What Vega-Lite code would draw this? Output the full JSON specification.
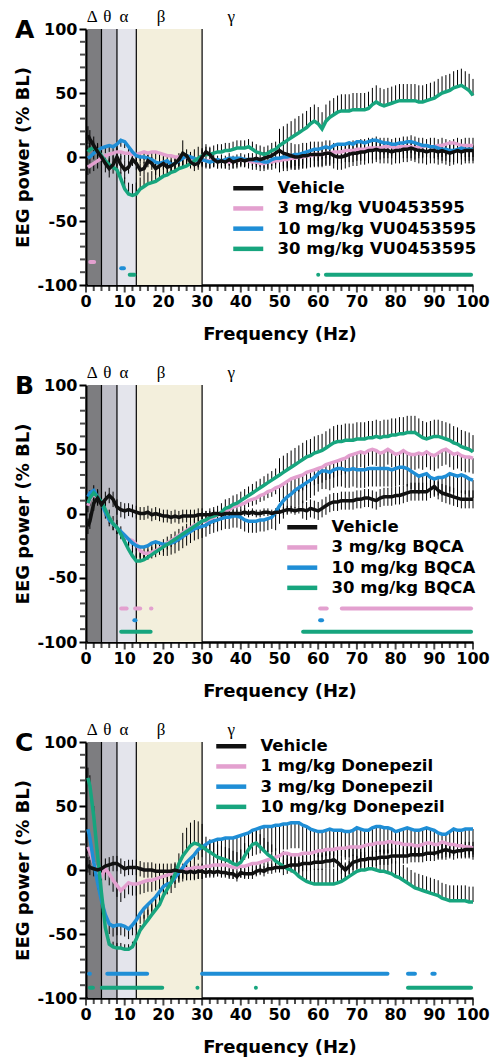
{
"$schema": "https://vega.github.io/schema/vega-lite/v6.json",
"padding": {"left": 14, "top": 8, "right": 0, "bottom": 2},
"spacing": 100,
"bounds": "flush",
"config": {
 "view": {"stroke": null},
 "font": "DejaVu Sans",
 "title": {"anchor": "start", "frame": "bounds", "font": "DejaVu Sans", "fontSize": 25, "fontWeight": "bold", "color": "black", "offset": 0, "dy": 39},
 "axis": {"domainColor": "black", "domainWidth": 2.5, "tickColor": "black", "tickWidth": 2, "tickSize": 7, "labelFont": "DejaVu Sans", "labelFontWeight": "bold", "labelFontSize": 16, "labelColor": "black", "titleFont": "DejaVu Sans", "titleFontWeight": "bold", "titleFontSize": 18, "titleColor": "black", "grid": false, "labelFlush": false, "labelPadding": 2},
 "axisX": {"titlePadding": 40},
 "axisY": {"titlePadding": 4},
 "legend": {"labelFont": "DejaVu Sans", "labelFontWeight": "bold", "labelFontSize": 16.5, "labelColor": "black", "labelLimit": 400, "symbolType": "M-3,0H3", "symbolSize": 100, "symbolStrokeWidth": 4.5, "rowPadding": 1.2, "labelOffset": 21, "padding": 0}
},
"resolve": {"scale": {"color": "independent"}, "legend": {"color": "independent"}},
"datasets": {
 "bands": [
  {"band": "Δ", "lo": 0.5, "hi": 4, "at": 1.6},
  {"band": "θ", "lo": 4, "hi": 8, "at": 5.5},
  {"band": "α", "lo": 8, "hi": 13, "at": 9.8},
  {"band": "β", "lo": 13, "hi": 30, "at": 19.4},
  {"band": "γ", "lo": 30, "hi": 100, "at": 37.5}
 ],
 "majorX": [{"v":0},{"v":10},{"v":20},{"v":30},{"v":40},{"v":50},{"v":60},{"v":70},{"v":80},{"v":90},{"v":100}],
 "minorX": [{"v":2},{"v":4},{"v":6},{"v":8},{"v":12},{"v":14},{"v":16},{"v":18},{"v":22},{"v":24},{"v":26},{"v":28},{"v":32},{"v":34},{"v":36},{"v":38},{"v":42},{"v":44},{"v":46},{"v":48},{"v":52},{"v":54},{"v":56},{"v":58},{"v":62},{"v":64},{"v":66},{"v":68},{"v":72},{"v":74},{"v":76},{"v":78},{"v":82},{"v":84},{"v":86},{"v":88},{"v":92},{"v":94},{"v":96},{"v":98}],
 "minorY": [{"v":-90},{"v":-80},{"v":-70},{"v":-60},{"v":-40},{"v":-30},{"v":-20},{"v":-10},{"v":10},{"v":20},{"v":30},{"v":40},{"v":60},{"v":70},{"v":80},{"v":90}],
 "sig": [
  {"p": "A", "s": "3 mg/kg VU0453595", "x0": 1.1, "x1": 2.1, "y": -82},
  {"p": "A", "s": "10 mg/kg VU0453595", "x0": 9.1, "x1": 9.8, "y": -87},
  {"p": "A", "s": "30 mg/kg VU0453595", "x0": 11.3, "x1": 12.5, "y": -92},
  {"p": "A", "s": "30 mg/kg VU0453595", "x0": 60, "x1": 60, "y": -92},
  {"p": "A", "s": "30 mg/kg VU0453595", "x0": 62, "x1": 99.5, "y": -92},
  {"p": "B", "s": "3 mg/kg BQCA", "x0": 9.1, "x1": 10.5, "y": -74},
  {"p": "B", "s": "3 mg/kg BQCA", "x0": 12.7, "x1": 14, "y": -74},
  {"p": "B", "s": "3 mg/kg BQCA", "x0": 16.8, "x1": 16.9, "y": -74},
  {"p": "B", "s": "3 mg/kg BQCA", "x0": 60.5, "x1": 62.2, "y": -74},
  {"p": "B", "s": "3 mg/kg BQCA", "x0": 66.1, "x1": 99.5, "y": -74},
  {"p": "B", "s": "10 mg/kg BQCA", "x0": 12.5, "x1": 12.8, "y": -83},
  {"p": "B", "s": "10 mg/kg BQCA", "x0": 60.5, "x1": 61, "y": -83},
  {"p": "B", "s": "30 mg/kg BQCA", "x0": 9.1, "x1": 16.7, "y": -92},
  {"p": "B", "s": "30 mg/kg BQCA", "x0": 56.1, "x1": 99.5, "y": -92},
  {"p": "C", "s": "3 mg/kg Donepezil", "x0": 0.8, "x1": 1, "y": -81},
  {"p": "C", "s": "3 mg/kg Donepezil", "x0": 5.5, "x1": 15.8, "y": -81},
  {"p": "C", "s": "3 mg/kg Donepezil", "x0": 30, "x1": 77.9, "y": -81},
  {"p": "C", "s": "3 mg/kg Donepezil", "x0": 83.2, "x1": 85, "y": -81},
  {"p": "C", "s": "3 mg/kg Donepezil", "x0": 89.5, "x1": 90.1, "y": -81},
  {"p": "C", "s": "10 mg/kg Donepezil", "x0": 1, "x1": 1.8, "y": -92},
  {"p": "C", "s": "10 mg/kg Donepezil", "x0": 4.1, "x1": 19.7, "y": -92},
  {"p": "C", "s": "10 mg/kg Donepezil", "x0": 28.8, "x1": 28.8, "y": -92},
  {"p": "C", "s": "10 mg/kg Donepezil", "x0": 43.9, "x1": 43.9, "y": -92},
  {"p": "C", "s": "10 mg/kg Donepezil", "x0": 83.2, "x1": 99.5, "y": -92}
 ],
 "A": [
{"f":0.5,"a":17,"b":-8,"c":-1,"d":4,"ea":7,"tb":-14,"tc":-6,"td":9},
{"f":1,"a":14,"b":-7,"c":0,"d":6,"ea":7,"tb":-13,"tc":-5,"td":11},
{"f":2,"a":9,"b":-5,"c":3,"d":7,"ea":7,"tb":-11,"tc":-2,"td":12},
{"f":3,"a":4,"b":-3,"c":5,"d":5,"ea":7,"tb":-9,"tc":0,"td":10},
{"f":4,"a":0,"b":-1,"c":7,"d":1,"ea":7,"tb":-7,"tc":2,"td":6},
{"f":5,"a":-5,"b":1,"c":8,"d":-3,"ea":7,"tb":-5,"tc":3,"td":2},
{"f":6,"a":-9,"b":2,"c":9,"d":-6,"ea":7,"tb":-4,"tc":4,"td":-1},
{"f":7,"a":-6,"b":3,"c":8,"d":-8,"ea":7,"tb":-3,"tc":3,"td":-3},
{"f":8,"a":0,"b":4,"c":10,"d":-10,"ea":7,"tb":-2,"tc":5,"td":-5},
{"f":9,"a":-6,"b":4,"c":13,"d":-17,"ea":7,"tb":-2,"tc":8,"td":-12},
{"f":10,"a":-10,"b":3,"c":12,"d":-25,"ea":7,"tb":-3,"tc":7,"td":-16},
{"f":11,"a":-8,"b":3,"c":8,"d":-29,"ea":5,"tb":-3,"tc":3,"td":-20},
{"f":12,"a":-2,"b":2,"c":4,"d":-30,"ea":5,"tb":-4,"tc":-1,"td":-21},
{"f":13,"a":-5,"b":2,"c":1,"d":-29,"ea":5,"tb":-4,"tc":-4,"td":-20},
{"f":14,"a":-10,"b":3,"c":0,"d":-25,"ea":5,"tb":-3,"tc":-5,"td":-16},
{"f":15,"a":-9,"b":4,"c":0,"d":-23,"ea":5,"tb":-2,"tc":-5,"td":-14},
{"f":16,"a":-3,"b":3,"c":-1,"d":-21,"ea":5,"tb":-3,"tc":-6,"td":-12},
{"f":17,"a":-5,"b":4,"c":-2,"d":-20,"ea":5,"tb":-2,"tc":-7,"td":-11},
{"f":18,"a":-9,"b":4,"c":-4,"d":-19,"ea":5,"tb":-2,"tc":-9,"td":-10},
{"f":19,"a":-7,"b":3,"c":-5,"d":-17,"ea":5,"tb":-3,"tc":-10,"td":-8},
{"f":20,"a":-5,"b":2,"c":-4,"d":-15,"ea":5,"tb":-4,"tc":-9,"td":-6},
{"f":21,"a":-8,"b":1,"c":-3,"d":-14,"ea":5,"tb":-5,"tc":-8,"td":-5},
{"f":22,"a":-7,"b":1,"c":-6,"d":-12,"ea":5,"tb":-5,"tc":-11,"td":-3},
{"f":23,"a":-5,"b":0,"c":-5,"d":-11,"ea":5,"tb":-6,"tc":-10,"td":-2},
{"f":24,"a":-2,"b":0,"c":-3,"d":-9,"ea":5,"tb":-6,"tc":-8,"td":0},
{"f":25,"a":3,"b":-1,"c":-1,"d":-8,"ea":10,"tb":-7,"tc":-6,"td":1},
{"f":26,"a":1,"b":0,"c":1,"d":-7,"ea":5,"tb":-6,"tc":-4,"td":2},
{"f":27,"a":-4,"b":-1,"c":0,"d":-5,"ea":5,"tb":-7,"tc":-5,"td":4},
{"f":28,"a":-6,"b":-2,"c":-1,"d":-3,"ea":5,"tb":-8,"tc":-6,"td":6},
{"f":29,"a":-5,"b":-2,"c":-3,"d":-1,"ea":5,"tb":-8,"tc":-8,"td":8},
{"f":30,"a":0,"b":-2,"c":-2,"d":1,"ea":6,"tb":-8,"tc":-7,"td":7},
{"f":31,"a":4,"b":-3,"c":-3,"d":2,"ea":6,"tb":-9,"tc":-8,"td":8},
{"f":32,"a":2,"b":-3,"c":-4,"d":2,"ea":5,"tb":-9,"tc":-9,"td":8},
{"f":33,"a":-2,"b":-2,"c":-3,"d":3,"ea":5,"tb":-8,"tc":-8,"td":9},
{"f":34,"a":-4,"b":-3,"c":-2,"d":4,"ea":5,"tb":-9,"tc":-7,"td":10},
{"f":35,"a":-3,"b":-3,"c":-3,"d":4,"ea":5,"tb":-9,"tc":-8,"td":10},
{"f":36,"a":-4,"b":-3,"c":-2,"d":5,"ea":5,"tb":-9,"tc":-7,"td":11},
{"f":37,"a":-2,"b":-4,"c":-1,"d":5,"ea":5,"tb":-10,"tc":-6,"td":11},
{"f":38,"a":-4,"b":-3,"c":-1,"d":6,"ea":5,"tb":-9,"tc":-6,"td":12},
{"f":39,"a":-3,"b":-3,"c":-1,"d":7,"ea":5,"tb":-9,"tc":-6,"td":13},
{"f":40,"a":-2,"b":-2,"c":-1,"d":7,"ea":5,"tb":-8,"tc":-6,"td":13},
{"f":41,"a":-3,"b":-2,"c":-2,"d":7,"ea":5,"tb":-8,"tc":-7,"td":13},
{"f":42,"a":-2,"b":-3,"c":-2,"d":8,"ea":5,"tb":-9,"tc":-7,"td":14},
{"f":43,"a":-2,"b":-4,"c":-2,"d":6,"ea":5,"tb":-10,"tc":-7,"td":12},
{"f":44,"a":-1,"b":-4,"c":-3,"d":4,"ea":5,"tb":-10,"tc":-8,"td":10},
{"f":45,"a":-2,"b":-5,"c":-3,"d":3,"ea":5,"tb":-11,"tc":-8,"td":9},
{"f":46,"a":-1,"b":-5,"c":-4,"d":2,"ea":5,"tb":-11,"tc":-9,"td":8},
{"f":47,"a":0,"b":-4,"c":-4,"d":3,"ea":5,"tb":-10,"tc":-9,"td":9},
{"f":48,"a":1,"b":-4,"c":-2,"d":5,"ea":5,"tb":-10,"tc":-7,"td":11},
{"f":49,"a":3,"b":-3,"c":-1,"d":6,"ea":5,"tb":-9,"tc":-6,"td":12},
{"f":50,"a":5,"b":-3,"c":-1,"d":9,"ea":10,"tb":-12,"tc":-10,"td":22},
{"f":51,"a":3,"b":-2,"c":0,"d":11,"ea":10,"tb":-11,"tc":-9,"td":24},
{"f":52,"a":2,"b":-2,"c":0,"d":13,"ea":10,"tb":-11,"tc":-9,"td":26},
{"f":53,"a":1,"b":-1,"c":1,"d":15,"ea":10,"tb":-10,"tc":-8,"td":28},
{"f":54,"a":0,"b":-1,"c":2,"d":17,"ea":10,"tb":-10,"tc":-7,"td":30},
{"f":55,"a":0,"b":0,"c":2,"d":19,"ea":10,"tb":-9,"tc":-7,"td":32},
{"f":56,"a":1,"b":0,"c":3,"d":21,"ea":10,"tb":-9,"tc":-6,"td":34},
{"f":57,"a":1,"b":1,"c":4,"d":23,"ea":10,"tb":-8,"tc":-5,"td":36},
{"f":58,"a":2,"b":1,"c":5,"d":26,"ea":10,"tb":-8,"tc":-4,"td":39},
{"f":59,"a":2,"b":2,"c":6,"d":28,"ea":10,"tb":-7,"tc":-3,"td":41},
{"f":60,"a":2,"b":2,"c":6,"d":26,"ea":10,"tb":-7,"tc":-3,"td":39},
{"f":61,"a":2,"b":2,"c":7,"d":22,"ea":10,"tb":-7,"tc":-2,"td":35},
{"f":62,"a":3,"b":3,"c":8,"d":28,"ea":10,"tb":-6,"tc":-1,"td":41},
{"f":63,"a":3,"b":3,"c":7,"d":31,"ea":10,"tb":-6,"tc":-2,"td":44},
{"f":64,"a":1,"b":4,"c":9,"d":33,"ea":10,"tb":-5,"tc":0,"td":46},
{"f":65,"a":0,"b":4,"c":10,"d":35,"ea":10,"tb":-5,"tc":1,"td":48},
{"f":66,"a":0,"b":4,"c":10,"d":36,"ea":10,"tb":-5,"tc":1,"td":49},
{"f":67,"a":1,"b":5,"c":10,"d":36,"ea":10,"tb":-4,"tc":1,"td":49},
{"f":68,"a":2,"b":5,"c":11,"d":36,"ea":10,"tb":-4,"tc":2,"td":49},
{"f":69,"a":3,"b":5,"c":10,"d":37,"ea":10,"tb":-4,"tc":1,"td":50},
{"f":70,"a":3,"b":6,"c":12,"d":37,"ea":10,"tb":-3,"tc":3,"td":50},
{"f":71,"a":4,"b":6,"c":12,"d":37,"ea":10,"tb":-3,"tc":3,"td":50},
{"f":72,"a":4,"b":6,"c":11,"d":37,"ea":10,"tb":-3,"tc":2,"td":50},
{"f":73,"a":5,"b":7,"c":12,"d":38,"ea":10,"tb":-2,"tc":3,"td":51},
{"f":74,"a":5,"b":7,"c":13,"d":41,"ea":10,"tb":-2,"tc":4,"td":54},
{"f":75,"a":6,"b":7,"c":13,"d":43,"ea":10,"tb":-2,"tc":4,"td":56},
{"f":76,"a":5,"b":7,"c":12,"d":41,"ea":10,"tb":-2,"tc":3,"td":54},
{"f":77,"a":5,"b":8,"c":11,"d":40,"ea":10,"tb":-1,"tc":2,"td":53},
{"f":78,"a":5,"b":8,"c":11,"d":41,"ea":10,"tb":-1,"tc":2,"td":54},
{"f":79,"a":4,"b":8,"c":10,"d":42,"ea":10,"tb":-1,"tc":1,"td":55},
{"f":80,"a":5,"b":7,"c":10,"d":43,"ea":10,"tb":-2,"tc":1,"td":56},
{"f":81,"a":5,"b":8,"c":11,"d":44,"ea":10,"tb":-1,"tc":2,"td":57},
{"f":82,"a":6,"b":8,"c":11,"d":44,"ea":10,"tb":-1,"tc":2,"td":57},
{"f":83,"a":6,"b":8,"c":12,"d":44,"ea":10,"tb":-1,"tc":3,"td":57},
{"f":84,"a":7,"b":8,"c":12,"d":44,"ea":10,"tb":-1,"tc":3,"td":57},
{"f":85,"a":6,"b":7,"c":11,"d":44,"ea":10,"tb":-2,"tc":2,"td":57},
{"f":86,"a":5,"b":8,"c":10,"d":43,"ea":10,"tb":-1,"tc":1,"td":56},
{"f":87,"a":5,"b":8,"c":9,"d":43,"ea":10,"tb":-1,"tc":0,"td":56},
{"f":88,"a":4,"b":9,"c":9,"d":44,"ea":10,"tb":0,"tc":0,"td":57},
{"f":89,"a":5,"b":8,"c":8,"d":45,"ea":10,"tb":-1,"tc":-1,"td":58},
{"f":90,"a":5,"b":8,"c":8,"d":46,"ea":10,"tb":-1,"tc":-1,"td":59},
{"f":91,"a":4,"b":9,"c":7,"d":48,"ea":10,"tb":0,"tc":-2,"td":61},
{"f":92,"a":5,"b":9,"c":6,"d":50,"ea":10,"tb":0,"tc":-3,"td":63},
{"f":93,"a":4,"b":10,"c":6,"d":51,"ea":10,"tb":1,"tc":-3,"td":64},
{"f":94,"a":3,"b":11,"c":5,"d":52,"ea":10,"tb":2,"tc":-4,"td":65},
{"f":95,"a":4,"b":11,"c":5,"d":54,"ea":10,"tb":2,"tc":-4,"td":67},
{"f":96,"a":5,"b":10,"c":6,"d":55,"ea":10,"tb":1,"tc":-3,"td":68},
{"f":97,"a":4,"b":9,"c":7,"d":56,"ea":10,"tb":0,"tc":-2,"td":69},
{"f":98,"a":5,"b":9,"c":6,"d":54,"ea":10,"tb":0,"tc":-3,"td":67},
{"f":99,"a":5,"b":9,"c":6,"d":52,"ea":10,"tb":0,"tc":-3,"td":65},
{"f":100,"a":5,"b":9,"c":6,"d":48,"ea":10,"tb":0,"tc":-3,"td":61}
 ],
 "B": [
{"f":0.5,"a":-10,"b":6,"c":13,"d":8,"ea":6,"tb":1,"tc":8,"td":14},
{"f":1,"a":-6,"b":11,"c":16,"d":12,"ea":6,"tb":6,"tc":11,"td":18},
{"f":2,"a":8,"b":15,"c":18,"d":16,"ea":6,"tb":10,"tc":13,"td":22},
{"f":3,"a":12,"b":12,"c":13,"d":13,"ea":6,"tb":7,"tc":8,"td":19},
{"f":4,"a":7,"b":8,"c":8,"d":9,"ea":6,"tb":3,"tc":3,"td":15},
{"f":5,"a":11,"b":3,"c":1,"d":3,"ea":6,"tb":-2,"tc":-4,"td":9},
{"f":6,"a":14,"b":-3,"c":-5,"d":-3,"ea":6,"tb":-8,"tc":-10,"td":3},
{"f":7,"a":11,"b":-8,"c":-8,"d":-8,"ea":6,"tb":-13,"tc":-13,"td":-2},
{"f":8,"a":5,"b":-11,"c":-11,"d":-11,"ea":6,"tb":-16,"tc":-16,"td":-5},
{"f":9,"a":3,"b":-15,"c":-14,"d":-16,"ea":6,"tb":-20,"tc":-19,"td":-10},
{"f":10,"a":2,"b":-18,"c":-17,"d":-22,"ea":6,"tb":-23,"tc":-22,"td":-16},
{"f":11,"a":3,"b":-20,"c":-20,"d":-28,"ea":5,"tb":-25,"tc":-25,"td":-22},
{"f":12,"a":2,"b":-21,"c":-23,"d":-33,"ea":5,"tb":-26,"tc":-28,"td":-27},
{"f":13,"a":1,"b":-24,"c":-25,"d":-37,"ea":5,"tb":-29,"tc":-34,"td":-31},
{"f":14,"a":0,"b":-29,"c":-26,"d":-37,"ea":5,"tb":-34,"tc":-35,"td":-31},
{"f":15,"a":0,"b":-31,"c":-26,"d":-36,"ea":5,"tb":-36,"tc":-35,"td":-30},
{"f":16,"a":1,"b":-31,"c":-25,"d":-34,"ea":5,"tb":-36,"tc":-34,"td":-28},
{"f":17,"a":-1,"b":-30,"c":-23,"d":-32,"ea":5,"tb":-35,"tc":-32,"td":-26},
{"f":18,"a":0,"b":-29,"c":-22,"d":-30,"ea":5,"tb":-34,"tc":-31,"td":-24},
{"f":19,"a":-1,"b":-27,"c":-23,"d":-28,"ea":5,"tb":-32,"tc":-32,"td":-22},
{"f":20,"a":-2,"b":-25,"c":-24,"d":-26,"ea":5,"tb":-30,"tc":-33,"td":-20},
{"f":21,"a":-2,"b":-23,"c":-24,"d":-24,"ea":5,"tb":-28,"tc":-33,"td":-18},
{"f":22,"a":-3,"b":-21,"c":-23,"d":-22,"ea":5,"tb":-26,"tc":-32,"td":-16},
{"f":23,"a":-2,"b":-19,"c":-22,"d":-20,"ea":5,"tb":-24,"tc":-31,"td":-14},
{"f":24,"a":-3,"b":-17,"c":-20,"d":-18,"ea":5,"tb":-22,"tc":-29,"td":-12},
{"f":25,"a":-2,"b":-15,"c":-18,"d":-16,"ea":5,"tb":-20,"tc":-27,"td":-10},
{"f":26,"a":-2,"b":-13,"c":-16,"d":-14,"ea":5,"tb":-18,"tc":-25,"td":-8},
{"f":27,"a":-2,"b":-11,"c":-14,"d":-12,"ea":5,"tb":-16,"tc":-23,"td":-6},
{"f":28,"a":-2,"b":-9,"c":-12,"d":-10,"ea":5,"tb":-14,"tc":-21,"td":-4},
{"f":29,"a":-1,"b":-8,"c":-11,"d":-8,"ea":5,"tb":-13,"tc":-20,"td":-2},
{"f":30,"a":-1,"b":-6,"c":-10,"d":-6,"ea":5,"tb":-11,"tc":-19,"td":1},
{"f":31,"a":-1,"b":-6,"c":-9,"d":-5,"ea":3,"tb":-11,"tc":-18,"td":2},
{"f":32,"a":-1,"b":-5,"c":-7,"d":-3,"ea":3,"tb":-10,"tc":-16,"td":4},
{"f":33,"a":0,"b":-3,"c":-6,"d":-2,"ea":3,"tb":-8,"tc":-15,"td":5},
{"f":34,"a":0,"b":-1,"c":-5,"d":-1,"ea":3,"tb":-6,"tc":-14,"td":6},
{"f":35,"a":-1,"b":1,"c":-4,"d":1,"ea":3,"tb":-4,"tc":-13,"td":8},
{"f":36,"a":0,"b":2,"c":-3,"d":4,"ea":3,"tb":-3,"tc":-12,"td":11},
{"f":37,"a":0,"b":3,"c":-3,"d":5,"ea":3,"tb":-2,"tc":-12,"td":12},
{"f":38,"a":0,"b":5,"c":-2,"d":7,"ea":3,"tb":0,"tc":-11,"td":14},
{"f":39,"a":0,"b":6,"c":-2,"d":8,"ea":3,"tb":1,"tc":-11,"td":15},
{"f":40,"a":0,"b":7,"c":-3,"d":10,"ea":3,"tb":2,"tc":-12,"td":17},
{"f":41,"a":1,"b":8,"c":-5,"d":12,"ea":3,"tb":3,"tc":-14,"td":19},
{"f":42,"a":0,"b":10,"c":-6,"d":14,"ea":3,"tb":5,"tc":-15,"td":21},
{"f":43,"a":1,"b":11,"c":-6,"d":16,"ea":3,"tb":6,"tc":-15,"td":23},
{"f":44,"a":0,"b":12,"c":-6,"d":18,"ea":3,"tb":7,"tc":-15,"td":25},
{"f":45,"a":0,"b":14,"c":-5,"d":20,"ea":3,"tb":9,"tc":-14,"td":27},
{"f":46,"a":1,"b":15,"c":-5,"d":22,"ea":3,"tb":10,"tc":-14,"td":29},
{"f":47,"a":1,"b":17,"c":-4,"d":24,"ea":3,"tb":12,"tc":-13,"td":31},
{"f":48,"a":0,"b":18,"c":-3,"d":26,"ea":3,"tb":13,"tc":-12,"td":33},
{"f":49,"a":1,"b":20,"c":1,"d":28,"ea":3,"tb":15,"tc":-13,"td":35},
{"f":50,"a":1,"b":21,"c":6,"d":30,"ea":3,"tb":9,"tc":-8,"td":43},
{"f":51,"a":2,"b":23,"c":10,"d":32,"ea":3,"tb":11,"tc":-4,"td":45},
{"f":52,"a":3,"b":25,"c":13,"d":34,"ea":3,"tb":13,"tc":-1,"td":47},
{"f":53,"a":3,"b":27,"c":15,"d":36,"ea":3,"tb":15,"tc":1,"td":49},
{"f":54,"a":2,"b":28,"c":18,"d":38,"ea":3,"tb":16,"tc":4,"td":51},
{"f":55,"a":3,"b":29,"c":20,"d":40,"ea":3,"tb":17,"tc":6,"td":53},
{"f":56,"a":3,"b":30,"c":22,"d":42,"ea":7,"tb":18,"tc":8,"td":55},
{"f":57,"a":2,"b":32,"c":24,"d":44,"ea":7,"tb":20,"tc":10,"td":57},
{"f":58,"a":4,"b":33,"c":26,"d":45,"ea":7,"tb":21,"tc":12,"td":58},
{"f":59,"a":3,"b":34,"c":28,"d":47,"ea":7,"tb":22,"tc":14,"td":60},
{"f":60,"a":2,"b":35,"c":31,"d":48,"ea":7,"tb":23,"tc":17,"td":61},
{"f":61,"a":4,"b":36,"c":33,"d":49,"ea":7,"tb":24,"tc":19,"td":62},
{"f":62,"a":6,"b":38,"c":33,"d":51,"ea":7,"tb":26,"tc":19,"td":64},
{"f":63,"a":8,"b":39,"c":32,"d":53,"ea":7,"tb":27,"tc":18,"td":66},
{"f":64,"a":9,"b":40,"c":34,"d":55,"ea":7,"tb":28,"tc":20,"td":68},
{"f":65,"a":9,"b":41,"c":35,"d":56,"ea":7,"tb":29,"tc":21,"td":69},
{"f":66,"a":10,"b":42,"c":35,"d":56,"ea":7,"tb":30,"tc":21,"td":69},
{"f":67,"a":10,"b":43,"c":34,"d":57,"ea":7,"tb":31,"tc":20,"td":70},
{"f":68,"a":10,"b":45,"c":34,"d":57,"ea":7,"tb":33,"tc":20,"td":70},
{"f":69,"a":10,"b":46,"c":35,"d":57,"ea":7,"tb":34,"tc":21,"td":70},
{"f":70,"a":11,"b":47,"c":34,"d":58,"ea":7,"tb":35,"tc":20,"td":71},
{"f":71,"a":11,"b":48,"c":34,"d":58,"ea":7,"tb":36,"tc":20,"td":71},
{"f":72,"a":12,"b":47,"c":34,"d":58,"ea":7,"tb":35,"tc":20,"td":71},
{"f":73,"a":12,"b":49,"c":35,"d":59,"ea":7,"tb":37,"tc":21,"td":72},
{"f":74,"a":11,"b":50,"c":35,"d":59,"ea":7,"tb":38,"tc":21,"td":72},
{"f":75,"a":10,"b":49,"c":35,"d":60,"ea":7,"tb":37,"tc":21,"td":73},
{"f":76,"a":12,"b":47,"c":35,"d":59,"ea":7,"tb":35,"tc":21,"td":72},
{"f":77,"a":13,"b":48,"c":35,"d":60,"ea":7,"tb":36,"tc":21,"td":73},
{"f":78,"a":13,"b":50,"c":35,"d":60,"ea":7,"tb":38,"tc":21,"td":73},
{"f":79,"a":13,"b":48,"c":34,"d":61,"ea":7,"tb":36,"tc":20,"td":74},
{"f":80,"a":14,"b":46,"c":35,"d":61,"ea":7,"tb":34,"tc":21,"td":74},
{"f":81,"a":14,"b":47,"c":36,"d":62,"ea":7,"tb":35,"tc":22,"td":75},
{"f":82,"a":15,"b":49,"c":36,"d":62,"ea":7,"tb":37,"tc":22,"td":75},
{"f":83,"a":16,"b":47,"c":35,"d":63,"ea":7,"tb":35,"tc":21,"td":76},
{"f":84,"a":17,"b":46,"c":33,"d":63,"ea":7,"tb":34,"tc":19,"td":76},
{"f":85,"a":17,"b":46,"c":31,"d":63,"ea":7,"tb":34,"tc":17,"td":76},
{"f":86,"a":17,"b":47,"c":29,"d":61,"ea":7,"tb":35,"tc":15,"td":74},
{"f":87,"a":17,"b":46,"c":30,"d":59,"ea":7,"tb":34,"tc":16,"td":72},
{"f":88,"a":17,"b":48,"c":31,"d":58,"ea":7,"tb":36,"tc":17,"td":71},
{"f":89,"a":19,"b":46,"c":28,"d":59,"ea":7,"tb":34,"tc":14,"td":72},
{"f":90,"a":21,"b":45,"c":27,"d":60,"ea":7,"tb":33,"tc":13,"td":73},
{"f":91,"a":18,"b":47,"c":28,"d":60,"ea":7,"tb":35,"tc":14,"td":73},
{"f":92,"a":16,"b":49,"c":28,"d":59,"ea":7,"tb":37,"tc":14,"td":72},
{"f":93,"a":15,"b":50,"c":29,"d":58,"ea":7,"tb":38,"tc":15,"td":71},
{"f":94,"a":14,"b":48,"c":31,"d":57,"ea":7,"tb":36,"tc":17,"td":70},
{"f":95,"a":13,"b":46,"c":30,"d":55,"ea":7,"tb":34,"tc":16,"td":68},
{"f":96,"a":12,"b":47,"c":29,"d":54,"ea":7,"tb":35,"tc":15,"td":67},
{"f":97,"a":11,"b":45,"c":30,"d":52,"ea":7,"tb":33,"tc":16,"td":65},
{"f":98,"a":11,"b":44,"c":29,"d":51,"ea":7,"tb":32,"tc":15,"td":64},
{"f":99,"a":11,"b":44,"c":27,"d":50,"ea":7,"tb":32,"tc":13,"td":63},
{"f":100,"a":11,"b":43,"c":26,"d":48,"ea":7,"tb":31,"tc":12,"td":61}
 ],
 "C": [
{"f":0.5,"a":4,"b":18,"c":32,"d":72,"ea":6,"tb":13,"tc":27,"td":80},
{"f":1,"a":2,"b":14,"c":25,"d":66,"ea":6,"tb":9,"tc":20,"td":74},
{"f":2,"a":1,"b":5,"c":6,"d":42,"ea":6,"tb":0,"tc":1,"td":50},
{"f":3,"a":0,"b":-2,"c":-10,"d":11,"ea":6,"tb":-11,"tc":-15,"td":16},
{"f":4,"a":1,"b":-5,"c":-24,"d":-18,"ea":6,"tb":-14,"tc":-29,"td":-13},
{"f":5,"a":3,"b":1,"c":-35,"d":-45,"ea":6,"tb":-8,"tc":-43,"td":-40},
{"f":6,"a":4,"b":-3,"c":-42,"d":-58,"ea":6,"tb":-12,"tc":-50,"td":-54},
{"f":7,"a":5,"b":-8,"c":-44,"d":-60,"ea":6,"tb":-17,"tc":-52,"td":-56},
{"f":8,"a":5,"b":-12,"c":-43,"d":-61,"ea":6,"tb":-21,"tc":-51,"td":-57},
{"f":9,"a":3,"b":-16,"c":-43,"d":-61,"ea":6,"tb":-25,"tc":-51,"td":-57},
{"f":10,"a":1,"b":-13,"c":-44,"d":-62,"ea":6,"tb":-22,"tc":-52,"td":-58},
{"f":11,"a":2,"b":-10,"c":-46,"d":-62,"ea":6,"tb":-19,"tc":-54,"td":-58},
{"f":12,"a":2,"b":-11,"c":-43,"d":-60,"ea":6,"tb":-20,"tc":-51,"td":-56},
{"f":13,"a":2,"b":-11,"c":-39,"d":-54,"ea":6,"tb":-20,"tc":-47,"td":-50},
{"f":14,"a":1,"b":-10,"c":-34,"d":-47,"ea":6,"tb":-19,"tc":-42,"td":-43},
{"f":15,"a":0,"b":-9,"c":-30,"d":-43,"ea":6,"tb":-18,"tc":-38,"td":-35},
{"f":16,"a":0,"b":-8,"c":-27,"d":-39,"ea":6,"tb":-17,"tc":-35,"td":-31},
{"f":17,"a":0,"b":-8,"c":-24,"d":-35,"ea":6,"tb":-17,"tc":-32,"td":-27},
{"f":18,"a":-1,"b":-7,"c":-21,"d":-31,"ea":6,"tb":-16,"tc":-29,"td":-23},
{"f":19,"a":-1,"b":-6,"c":-17,"d":-27,"ea":6,"tb":-15,"tc":-25,"td":-19},
{"f":20,"a":-1,"b":-5,"c":-13,"d":-20,"ea":6,"tb":-14,"tc":-21,"td":-12},
{"f":21,"a":-1,"b":-4,"c":-11,"d":-15,"ea":6,"tb":-13,"tc":-19,"td":-7},
{"f":22,"a":-1,"b":-3,"c":-10,"d":-10,"ea":6,"tb":-12,"tc":-18,"td":-2},
{"f":23,"a":0,"b":-2,"c":-6,"d":-3,"ea":6,"tb":-11,"tc":-14,"td":5},
{"f":24,"a":-1,"b":0,"c":-2,"d":5,"ea":6,"tb":-9,"tc":-10,"td":13},
{"f":25,"a":-1,"b":0,"c":2,"d":11,"ea":6,"tb":-9,"tc":-6,"td":29},
{"f":26,"a":-2,"b":1,"c":6,"d":15,"ea":6,"tb":-8,"tc":-2,"td":33},
{"f":27,"a":-1,"b":1,"c":9,"d":19,"ea":6,"tb":-8,"tc":1,"td":37},
{"f":28,"a":-2,"b":2,"c":12,"d":21,"ea":6,"tb":-7,"tc":4,"td":39},
{"f":29,"a":-1,"b":2,"c":16,"d":20,"ea":6,"tb":-7,"tc":8,"td":38},
{"f":30,"a":-1,"b":2,"c":18,"d":18,"ea":6,"tb":-7,"tc":10,"td":36},
{"f":31,"a":-2,"b":3,"c":20,"d":16,"ea":4,"tb":-6,"tc":0,"td":26},
{"f":32,"a":-1,"b":3,"c":22,"d":14,"ea":4,"tb":-6,"tc":2,"td":24},
{"f":33,"a":-2,"b":4,"c":23,"d":12,"ea":4,"tb":-5,"tc":3,"td":22},
{"f":34,"a":-1,"b":4,"c":24,"d":10,"ea":4,"tb":-5,"tc":4,"td":20},
{"f":35,"a":-2,"b":4,"c":24,"d":9,"ea":4,"tb":-5,"tc":4,"td":19},
{"f":36,"a":-2,"b":4,"c":25,"d":8,"ea":4,"tb":-5,"tc":5,"td":18},
{"f":37,"a":-3,"b":3,"c":25,"d":7,"ea":4,"tb":-6,"tc":5,"td":17},
{"f":38,"a":-3,"b":2,"c":25,"d":5,"ea":4,"tb":-7,"tc":5,"td":15},
{"f":39,"a":-5,"b":2,"c":26,"d":4,"ea":4,"tb":-7,"tc":6,"td":14},
{"f":40,"a":-2,"b":3,"c":27,"d":6,"ea":4,"tb":-6,"tc":7,"td":16},
{"f":41,"a":-3,"b":3,"c":28,"d":11,"ea":4,"tb":-6,"tc":8,"td":21},
{"f":42,"a":-3,"b":4,"c":29,"d":16,"ea":4,"tb":-5,"tc":9,"td":26},
{"f":43,"a":-3,"b":5,"c":31,"d":20,"ea":4,"tb":-4,"tc":11,"td":30},
{"f":44,"a":-1,"b":5,"c":32,"d":21,"ea":4,"tb":-4,"tc":12,"td":31},
{"f":45,"a":0,"b":6,"c":33,"d":18,"ea":4,"tb":-3,"tc":13,"td":28},
{"f":46,"a":-1,"b":7,"c":34,"d":15,"ea":4,"tb":-2,"tc":14,"td":25},
{"f":47,"a":1,"b":8,"c":34,"d":12,"ea":4,"tb":-1,"tc":14,"td":22},
{"f":48,"a":1,"b":9,"c":34,"d":10,"ea":4,"tb":0,"tc":14,"td":20},
{"f":49,"a":2,"b":10,"c":35,"d":7,"ea":4,"tb":1,"tc":15,"td":17},
{"f":50,"a":2,"b":11,"c":35,"d":5,"ea":4,"tb":2,"tc":15,"td":17},
{"f":51,"a":2,"b":13,"c":36,"d":3,"ea":6,"tb":4,"tc":16,"td":15},
{"f":52,"a":3,"b":13,"c":36,"d":1,"ea":6,"tb":4,"tc":16,"td":13},
{"f":53,"a":4,"b":12,"c":37,"d":0,"ea":6,"tb":3,"tc":17,"td":12},
{"f":54,"a":4,"b":12,"c":37,"d":-2,"ea":6,"tb":3,"tc":17,"td":10},
{"f":55,"a":4,"b":12,"c":37,"d":-5,"ea":6,"tb":3,"tc":17,"td":7},
{"f":56,"a":5,"b":13,"c":35,"d":-7,"ea":6,"tb":4,"tc":15,"td":5},
{"f":57,"a":5,"b":13,"c":34,"d":-9,"ea":6,"tb":4,"tc":14,"td":3},
{"f":58,"a":5,"b":13,"c":32,"d":-10,"ea":6,"tb":4,"tc":12,"td":2},
{"f":59,"a":6,"b":14,"c":31,"d":-11,"ea":6,"tb":5,"tc":11,"td":1},
{"f":60,"a":6,"b":15,"c":30,"d":-11,"ea":6,"tb":6,"tc":10,"td":1},
{"f":61,"a":6,"b":15,"c":30,"d":-11,"ea":6,"tb":6,"tc":10,"td":1},
{"f":62,"a":7,"b":16,"c":31,"d":-11,"ea":6,"tb":7,"tc":11,"td":1},
{"f":63,"a":7,"b":16,"c":32,"d":-11,"ea":6,"tb":7,"tc":12,"td":1},
{"f":64,"a":8,"b":16,"c":31,"d":-11,"ea":6,"tb":7,"tc":11,"td":1},
{"f":65,"a":6,"b":17,"c":31,"d":-10,"ea":6,"tb":8,"tc":11,"td":2},
{"f":66,"a":3,"b":17,"c":31,"d":-9,"ea":6,"tb":8,"tc":11,"td":3},
{"f":67,"a":0,"b":17,"c":30,"d":-7,"ea":6,"tb":8,"tc":10,"td":5},
{"f":68,"a":3,"b":18,"c":30,"d":-5,"ea":6,"tb":9,"tc":10,"td":7},
{"f":69,"a":6,"b":18,"c":31,"d":-3,"ea":6,"tb":9,"tc":11,"td":9},
{"f":70,"a":7,"b":18,"c":33,"d":-1,"ea":6,"tb":9,"tc":13,"td":11},
{"f":71,"a":8,"b":18,"c":32,"d":0,"ea":6,"tb":9,"tc":12,"td":12},
{"f":72,"a":8,"b":19,"c":31,"d":0,"ea":6,"tb":10,"tc":11,"td":12},
{"f":73,"a":9,"b":20,"c":31,"d":1,"ea":6,"tb":11,"tc":11,"td":13},
{"f":74,"a":9,"b":20,"c":33,"d":1,"ea":6,"tb":11,"tc":13,"td":13},
{"f":75,"a":9,"b":21,"c":34,"d":0,"ea":6,"tb":12,"tc":14,"td":12},
{"f":76,"a":10,"b":21,"c":34,"d":-1,"ea":6,"tb":12,"tc":14,"td":11},
{"f":77,"a":10,"b":21,"c":33,"d":-1,"ea":6,"tb":12,"tc":13,"td":11},
{"f":78,"a":10,"b":22,"c":33,"d":-2,"ea":6,"tb":13,"tc":13,"td":10},
{"f":79,"a":11,"b":22,"c":32,"d":-3,"ea":6,"tb":13,"tc":12,"td":9},
{"f":80,"a":11,"b":21,"c":30,"d":-5,"ea":6,"tb":12,"tc":10,"td":7},
{"f":81,"a":11,"b":21,"c":31,"d":-6,"ea":6,"tb":12,"tc":11,"td":6},
{"f":82,"a":11,"b":20,"c":32,"d":-8,"ea":6,"tb":11,"tc":12,"td":4},
{"f":83,"a":11,"b":20,"c":33,"d":-10,"ea":6,"tb":11,"tc":13,"td":2},
{"f":84,"a":12,"b":20,"c":32,"d":-12,"ea":6,"tb":11,"tc":12,"td":0},
{"f":85,"a":12,"b":19,"c":31,"d":-14,"ea":6,"tb":10,"tc":11,"td":-2},
{"f":86,"a":12,"b":19,"c":31,"d":-15,"ea":6,"tb":10,"tc":11,"td":-3},
{"f":87,"a":12,"b":20,"c":32,"d":-16,"ea":6,"tb":11,"tc":12,"td":-4},
{"f":88,"a":13,"b":21,"c":33,"d":-17,"ea":6,"tb":12,"tc":13,"td":-5},
{"f":89,"a":13,"b":21,"c":32,"d":-18,"ea":6,"tb":12,"tc":12,"td":-6},
{"f":90,"a":13,"b":20,"c":31,"d":-19,"ea":6,"tb":11,"tc":11,"td":-7},
{"f":91,"a":14,"b":20,"c":29,"d":-20,"ea":6,"tb":11,"tc":9,"td":-8},
{"f":92,"a":15,"b":22,"c":28,"d":-22,"ea":6,"tb":13,"tc":8,"td":-10},
{"f":93,"a":16,"b":21,"c":28,"d":-23,"ea":6,"tb":12,"tc":8,"td":-11},
{"f":94,"a":15,"b":20,"c":30,"d":-24,"ea":6,"tb":11,"tc":10,"td":-12},
{"f":95,"a":14,"b":20,"c":32,"d":-24,"ea":6,"tb":11,"tc":12,"td":-12},
{"f":96,"a":15,"b":19,"c":31,"d":-24,"ea":6,"tb":10,"tc":11,"td":-12},
{"f":97,"a":15,"b":19,"c":31,"d":-24,"ea":6,"tb":10,"tc":11,"td":-12},
{"f":98,"a":16,"b":18,"c":32,"d":-24,"ea":6,"tb":9,"tc":12,"td":-12},
{"f":99,"a":16,"b":18,"c":32,"d":-25,"ea":6,"tb":9,"tc":12,"td":-13},
{"f":100,"a":16,"b":17,"c":32,"d":-25,"ea":6,"tb":8,"tc":12,"td":-13}
 ]
},
"vconcat": [
 {
  "width": 387, "height": 256,
  "title": {"text": "A"},
  "layer": [
   {"data": {"name": "bands"}, "transform": [{"filter": "datum.band !== 'γ'"}], "mark": "rect",
    "encoding": {
     "x": {"field": "lo", "type": "quantitative", "scale": {"domain": [0, 100], "nice": false}, "axis": {"title": "Frequency (Hz)", "labels": false, "ticks": false}},
     "x2": {"field": "hi"},
     "fill": {"field": "band", "type": "nominal", "scale": {"domain": ["Δ","θ","α","β"], "range": ["#7d7d80","#bdbdc6","#e4e5ec","#f3efdc"]}, "legend": null}
    }},
   {"data": {"name": "majorX"}, "mark": {"type": "tick", "orient": "vertical", "color": "black", "thickness": 2, "size": 7, "yOffset": 4},
    "encoding": {"x": {"field": "v", "type": "quantitative", "title": "Frequency (Hz)"}, "y": {"datum": -100, "type": "quantitative"}}},
   {"data": {"name": "majorX"}, "mark": {"type": "text", "font": "DejaVu Sans", "fontWeight": "bold", "fontSize": 16, "baseline": "top", "dy": 9, "color": "black"},
    "encoding": {"x": {"field": "v", "type": "quantitative", "title": "Frequency (Hz)"}, "y": {"datum": -100, "type": "quantitative"}, "text": {"field": "v", "type": "quantitative"}}},
   {"data": {"name": "minorX"}, "mark": {"type": "tick", "orient": "vertical", "color": "black", "thickness": 2, "size": 5, "yOffset": 3.5},
    "encoding": {"x": {"field": "v", "type": "quantitative", "title": "Frequency (Hz)"}, "y": {"datum": -100, "type": "quantitative"}}},
   {"data": {"name": "minorY"}, "mark": {"type": "tick", "orient": "horizontal", "color": "black", "thickness": 2, "size": 5, "xOffset": -3.5},
    "encoding": {"y": {"field": "v", "type": "quantitative", "title": "EEG power (% BL)"}, "x": {"datum": 0, "type": "quantitative"}}},
   {"data": {"name": "bands"}, "transform": [{"filter": "datum.lo > 1"}], "mark": {"type": "rule", "color": "black", "strokeWidth": 1.2}, "encoding": {"x": {"field": "lo", "type": "quantitative"}}},
   {"data": {"name": "bands"}, "mark": {"type": "text", "font": "Liberation Serif", "fontSize": 17, "baseline": "alphabetic", "dy": -7, "color": "black"},
    "encoding": {
     "x": {"field": "at", "type": "quantitative"},
     "y": {"datum": 100, "type": "quantitative", "scale": {"domain": [-100, 100], "nice": false}, "axis": {"title": "EEG power (% BL)", "values": [-100,-50,0,50,100], "labelExpr": "toString(datum.value)"}},
     "text": {"field": "band"}
    }},
   {"data": {"name": "A"}, "mark": {"type": "errorbar", "color": "black", "thickness": 1}, "encoding": {"x": {"field": "f", "type": "quantitative", "title": "Frequency (Hz)"}, "y": {"field": "a", "type": "quantitative", "title": "EEG power (% BL)"}, "yError": {"field": "ea"}}},
   {"data": {"name": "A"}, "mark": {"type": "rule", "color": "black", "strokeWidth": 1}, "encoding": {"x": {"field": "f", "type": "quantitative"}, "y": {"field": "b", "type": "quantitative"}, "y2": {"field": "tb"}}},
   {"data": {"name": "A"}, "mark": {"type": "rule", "color": "black", "strokeWidth": 1}, "encoding": {"x": {"field": "f", "type": "quantitative"}, "y": {"field": "c", "type": "quantitative"}, "y2": {"field": "tc"}}},
   {"data": {"name": "A"}, "mark": {"type": "rule", "color": "black", "strokeWidth": 1}, "encoding": {"x": {"field": "f", "type": "quantitative"}, "y": {"field": "d", "type": "quantitative"}, "y2": {"field": "td"}}},
   {"data": {"name": "A"}, "mark": {"type": "line", "strokeWidth": 3.5}, "encoding": {"x": {"field": "f", "type": "quantitative"}, "y": {"field": "b", "type": "quantitative"},
     "color": {"datum": "3 mg/kg VU0453595", "type": "nominal", "title": null, "scale": {"domain": ["Vehicle","3 mg/kg VU0453595","10 mg/kg VU0453595","30 mg/kg VU0453595"], "range": ["#111111","#e3a0cf","#1f8ed6","#17a57e"]}, "legend": {"title": null, "orient": "none", "legendX": 154, "legendY": 151}}}},
   {"data": {"name": "A"}, "mark": {"type": "line", "strokeWidth": 3.5}, "encoding": {"x": {"field": "f", "type": "quantitative"}, "y": {"field": "c", "type": "quantitative"}, "color": {"datum": "10 mg/kg VU0453595", "type": "nominal", "title": null}}},
   {"data": {"name": "A"}, "mark": {"type": "line", "strokeWidth": 3.5}, "encoding": {"x": {"field": "f", "type": "quantitative"}, "y": {"field": "d", "type": "quantitative"}, "color": {"datum": "30 mg/kg VU0453595", "type": "nominal", "title": null}}},
   {"data": {"name": "A"}, "mark": {"type": "line", "strokeWidth": 3.5}, "encoding": {"x": {"field": "f", "type": "quantitative"}, "y": {"field": "a", "type": "quantitative"}, "color": {"datum": "Vehicle", "type": "nominal", "title": null}}},
   {"data": {"name": "sig"}, "transform": [{"filter": "datum.p === 'A'"}], "mark": {"type": "rule", "strokeWidth": 4, "strokeCap": "round"},
    "encoding": {"x": {"field": "x0", "type": "quantitative"}, "x2": {"field": "x1"}, "y": {"field": "y", "type": "quantitative"}, "color": {"field": "s", "type": "nominal", "title": null}}}
  ]
 },
 {
  "width": 387, "height": 257,
  "title": {"text": "B"},
  "layer": [
   {"data": {"name": "bands"}, "transform": [{"filter": "datum.band !== 'γ'"}], "mark": "rect",
    "encoding": {
     "x": {"field": "lo", "type": "quantitative", "scale": {"domain": [0, 100], "nice": false}, "axis": {"title": "Frequency (Hz)", "labels": false, "ticks": false}},
     "x2": {"field": "hi"},
     "fill": {"field": "band", "type": "nominal", "scale": {"domain": ["Δ","θ","α","β"], "range": ["#7d7d80","#bdbdc6","#e4e5ec","#f3efdc"]}, "legend": null}
    }},
   {"data": {"name": "majorX"}, "mark": {"type": "tick", "orient": "vertical", "color": "black", "thickness": 2, "size": 7, "yOffset": 4},
    "encoding": {"x": {"field": "v", "type": "quantitative", "title": "Frequency (Hz)"}, "y": {"datum": -100, "type": "quantitative"}}},
   {"data": {"name": "majorX"}, "mark": {"type": "text", "font": "DejaVu Sans", "fontWeight": "bold", "fontSize": 16, "baseline": "top", "dy": 9, "color": "black"},
    "encoding": {"x": {"field": "v", "type": "quantitative", "title": "Frequency (Hz)"}, "y": {"datum": -100, "type": "quantitative"}, "text": {"field": "v", "type": "quantitative"}}},
   {"data": {"name": "minorX"}, "mark": {"type": "tick", "orient": "vertical", "color": "black", "thickness": 2, "size": 5, "yOffset": 3.5},
    "encoding": {"x": {"field": "v", "type": "quantitative", "title": "Frequency (Hz)"}, "y": {"datum": -100, "type": "quantitative"}}},
   {"data": {"name": "minorY"}, "mark": {"type": "tick", "orient": "horizontal", "color": "black", "thickness": 2, "size": 5, "xOffset": -3.5},
    "encoding": {"y": {"field": "v", "type": "quantitative", "title": "EEG power (% BL)"}, "x": {"datum": 0, "type": "quantitative"}}},
   {"mark": {"type": "rule", "color": "black", "strokeWidth": 1.5, "strokeDash": [7, 5]}, "encoding": {"y": {"datum": 0, "type": "quantitative"}}},
   {"data": {"name": "bands"}, "transform": [{"filter": "datum.lo > 1"}], "mark": {"type": "rule", "color": "black", "strokeWidth": 1.2}, "encoding": {"x": {"field": "lo", "type": "quantitative"}}},
   {"data": {"name": "bands"}, "mark": {"type": "text", "font": "Liberation Serif", "fontSize": 17, "baseline": "alphabetic", "dy": -7, "color": "black"},
    "encoding": {
     "x": {"field": "at", "type": "quantitative"},
     "y": {"datum": 100, "type": "quantitative", "scale": {"domain": [-100, 100], "nice": false}, "axis": {"title": "EEG power (% BL)", "values": [-100,-50,0,50,100], "labelExpr": "toString(datum.value)"}},
     "text": {"field": "band"}
    }},
   {"data": {"name": "B"}, "mark": {"type": "errorbar", "color": "black", "thickness": 1}, "encoding": {"x": {"field": "f", "type": "quantitative", "title": "Frequency (Hz)"}, "y": {"field": "a", "type": "quantitative", "title": "EEG power (% BL)"}, "yError": {"field": "ea"}}},
   {"data": {"name": "B"}, "mark": {"type": "rule", "color": "black", "strokeWidth": 1}, "encoding": {"x": {"field": "f", "type": "quantitative"}, "y": {"field": "b", "type": "quantitative"}, "y2": {"field": "tb"}}},
   {"data": {"name": "B"}, "mark": {"type": "rule", "color": "black", "strokeWidth": 1}, "encoding": {"x": {"field": "f", "type": "quantitative"}, "y": {"field": "c", "type": "quantitative"}, "y2": {"field": "tc"}}},
   {"data": {"name": "B"}, "mark": {"type": "rule", "color": "black", "strokeWidth": 1}, "encoding": {"x": {"field": "f", "type": "quantitative"}, "y": {"field": "d", "type": "quantitative"}, "y2": {"field": "td"}}},
   {"data": {"name": "B"}, "mark": {"type": "line", "strokeWidth": 3.5}, "encoding": {"x": {"field": "f", "type": "quantitative"}, "y": {"field": "b", "type": "quantitative"},
     "color": {"datum": "3 mg/kg BQCA", "type": "nominal", "title": null, "scale": {"domain": ["Vehicle","3 mg/kg BQCA","10 mg/kg BQCA","30 mg/kg BQCA"], "range": ["#111111","#e3a0cf","#1f8ed6","#17a57e"]}, "legend": {"title": null, "orient": "none", "legendX": 208, "legendY": 134}}}},
   {"data": {"name": "B"}, "mark": {"type": "line", "strokeWidth": 3.5}, "encoding": {"x": {"field": "f", "type": "quantitative"}, "y": {"field": "c", "type": "quantitative"}, "color": {"datum": "10 mg/kg BQCA", "type": "nominal", "title": null}}},
   {"data": {"name": "B"}, "mark": {"type": "line", "strokeWidth": 3.5}, "encoding": {"x": {"field": "f", "type": "quantitative"}, "y": {"field": "d", "type": "quantitative"}, "color": {"datum": "30 mg/kg BQCA", "type": "nominal", "title": null}}},
   {"data": {"name": "B"}, "mark": {"type": "line", "strokeWidth": 3.5}, "encoding": {"x": {"field": "f", "type": "quantitative"}, "y": {"field": "a", "type": "quantitative"}, "color": {"datum": "Vehicle", "type": "nominal", "title": null}}},
   {"data": {"name": "sig"}, "transform": [{"filter": "datum.p === 'B'"}], "mark": {"type": "rule", "strokeWidth": 4, "strokeCap": "round"},
    "encoding": {"x": {"field": "x0", "type": "quantitative"}, "x2": {"field": "x1"}, "y": {"field": "y", "type": "quantitative"}, "color": {"field": "s", "type": "nominal", "title": null}}}
  ]
 },
 {
  "width": 387, "height": 256,
  "title": {"text": "C"},
  "layer": [
   {"data": {"name": "bands"}, "transform": [{"filter": "datum.band !== 'γ'"}], "mark": "rect",
    "encoding": {
     "x": {"field": "lo", "type": "quantitative", "scale": {"domain": [0, 100], "nice": false}, "axis": {"title": "Frequency (Hz)", "labels": false, "ticks": false}},
     "x2": {"field": "hi"},
     "fill": {"field": "band", "type": "nominal", "scale": {"domain": ["Δ","θ","α","β"], "range": ["#7d7d80","#bdbdc6","#e4e5ec","#f3efdc"]}, "legend": null}
    }},
   {"data": {"name": "majorX"}, "mark": {"type": "tick", "orient": "vertical", "color": "black", "thickness": 2, "size": 7, "yOffset": 4},
    "encoding": {"x": {"field": "v", "type": "quantitative", "title": "Frequency (Hz)"}, "y": {"datum": -100, "type": "quantitative"}}},
   {"data": {"name": "majorX"}, "mark": {"type": "text", "font": "DejaVu Sans", "fontWeight": "bold", "fontSize": 16, "baseline": "top", "dy": 9, "color": "black"},
    "encoding": {"x": {"field": "v", "type": "quantitative", "title": "Frequency (Hz)"}, "y": {"datum": -100, "type": "quantitative"}, "text": {"field": "v", "type": "quantitative"}}},
   {"data": {"name": "minorX"}, "mark": {"type": "tick", "orient": "vertical", "color": "black", "thickness": 2, "size": 5, "yOffset": 3.5},
    "encoding": {"x": {"field": "v", "type": "quantitative", "title": "Frequency (Hz)"}, "y": {"datum": -100, "type": "quantitative"}}},
   {"data": {"name": "minorY"}, "mark": {"type": "tick", "orient": "horizontal", "color": "black", "thickness": 2, "size": 5, "xOffset": -3.5},
    "encoding": {"y": {"field": "v", "type": "quantitative", "title": "EEG power (% BL)"}, "x": {"datum": 0, "type": "quantitative"}}},
   {"mark": {"type": "rule", "color": "black", "strokeWidth": 1.5, "strokeDash": [7, 5]}, "encoding": {"y": {"datum": 0, "type": "quantitative"}}},
   {"data": {"name": "bands"}, "transform": [{"filter": "datum.lo > 1"}], "mark": {"type": "rule", "color": "black", "strokeWidth": 1.2}, "encoding": {"x": {"field": "lo", "type": "quantitative"}}},
   {"data": {"name": "bands"}, "mark": {"type": "text", "font": "Liberation Serif", "fontSize": 17, "baseline": "alphabetic", "dy": -7, "color": "black"},
    "encoding": {
     "x": {"field": "at", "type": "quantitative"},
     "y": {"datum": 100, "type": "quantitative", "scale": {"domain": [-100, 100], "nice": false}, "axis": {"title": "EEG power (% BL)", "values": [-100,-50,0,50,100], "labelExpr": "toString(datum.value)"}},
     "text": {"field": "band"}
    }},
   {"data": {"name": "C"}, "mark": {"type": "errorbar", "color": "black", "thickness": 1}, "encoding": {"x": {"field": "f", "type": "quantitative", "title": "Frequency (Hz)"}, "y": {"field": "a", "type": "quantitative", "title": "EEG power (% BL)"}, "yError": {"field": "ea"}}},
   {"data": {"name": "C"}, "mark": {"type": "rule", "color": "black", "strokeWidth": 1}, "encoding": {"x": {"field": "f", "type": "quantitative"}, "y": {"field": "b", "type": "quantitative"}, "y2": {"field": "tb"}}},
   {"data": {"name": "C"}, "mark": {"type": "rule", "color": "black", "strokeWidth": 1}, "encoding": {"x": {"field": "f", "type": "quantitative"}, "y": {"field": "c", "type": "quantitative"}, "y2": {"field": "tc"}}},
   {"data": {"name": "C"}, "mark": {"type": "rule", "color": "black", "strokeWidth": 1}, "encoding": {"x": {"field": "f", "type": "quantitative"}, "y": {"field": "d", "type": "quantitative"}, "y2": {"field": "td"}}},
   {"data": {"name": "C"}, "mark": {"type": "line", "strokeWidth": 3.5}, "encoding": {"x": {"field": "f", "type": "quantitative"}, "y": {"field": "b", "type": "quantitative"},
     "color": {"datum": "1 mg/kg Donepezil", "type": "nominal", "title": null, "scale": {"domain": ["Vehicle","1 mg/kg Donepezil","3 mg/kg Donepezil","10 mg/kg Donepezil"], "range": ["#111111","#e3a0cf","#1f8ed6","#17a57e"]}, "legend": {"title": null, "orient": "none", "legendX": 137, "legendY": -4}}}},
   {"data": {"name": "C"}, "mark": {"type": "line", "strokeWidth": 3.5}, "encoding": {"x": {"field": "f", "type": "quantitative"}, "y": {"field": "c", "type": "quantitative"}, "color": {"datum": "3 mg/kg Donepezil", "type": "nominal", "title": null}}},
   {"data": {"name": "C"}, "mark": {"type": "line", "strokeWidth": 3.5}, "encoding": {"x": {"field": "f", "type": "quantitative"}, "y": {"field": "d", "type": "quantitative"}, "color": {"datum": "10 mg/kg Donepezil", "type": "nominal", "title": null}}},
   {"data": {"name": "C"}, "mark": {"type": "line", "strokeWidth": 3.5}, "encoding": {"x": {"field": "f", "type": "quantitative"}, "y": {"field": "a", "type": "quantitative"}, "color": {"datum": "Vehicle", "type": "nominal", "title": null}}},
   {"data": {"name": "sig"}, "transform": [{"filter": "datum.p === 'C'"}], "mark": {"type": "rule", "strokeWidth": 4, "strokeCap": "round"},
    "encoding": {"x": {"field": "x0", "type": "quantitative"}, "x2": {"field": "x1"}, "y": {"field": "y", "type": "quantitative"}, "color": {"field": "s", "type": "nominal", "title": null}}}
  ]
 }
]
}
